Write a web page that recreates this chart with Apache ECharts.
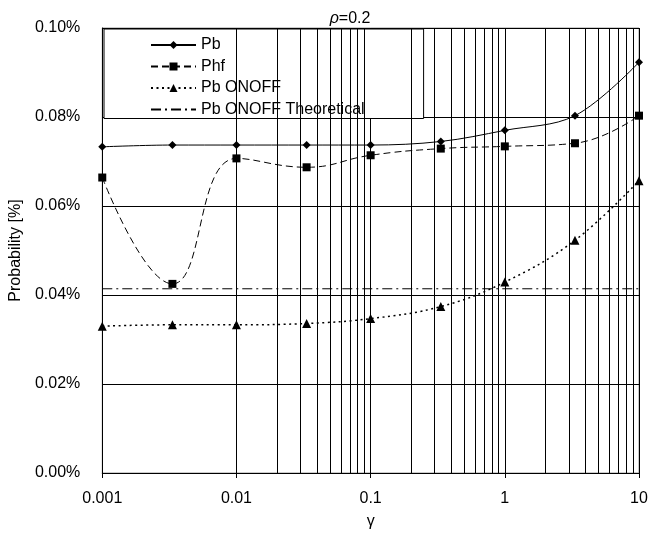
<!DOCTYPE html>
<html>
<head>
<meta charset="utf-8">
<script src="https://cdn.jsdelivr.net/npm/echarts@6/dist/echarts.min.js"></script>
<style>html,body{margin:0;padding:0;background:#fff}#c{width:666px;height:535px}</style>
</head>
<body>
<div id="c"></div>
<script>
var gammaValues = [0.001, 0.003333, 0.01, 0.03333, 0.1, 0.3333, 1, 3.333, 10];
var pbValues = [0.0733, 0.0737, 0.0737, 0.0737, 0.0737, 0.0745, 0.0770, 0.0803, 0.0923];
var phfValues = [0.0664, 0.0425, 0.0707, 0.0687, 0.0714, 0.0729, 0.0734, 0.0741, 0.0803];
var pbOnoffValues = [0.0330, 0.0333, 0.0333, 0.0336, 0.0347, 0.0374, 0.0429, 0.0523, 0.0657];
var theoreticalValue = 0.0414;
var theoreticalRange = [0.001, 10];
var xTickLabels = ['0.001', '0.01', '0.1', '1', '10'];
var minorGridX = [];
[0.001, 0.01, 0.1, 1].forEach(function (d) {
  for (var k = 2; k <= 9; k++) minorGridX.push(+(d * k).toPrecision(3));
});

function pairs(xs, ys) { return xs.map(function (x, i) { return [x, ys[i]]; }); }

var font = 'Liberation Sans, Arial, sans-serif';
var fs = 16;
var chart = echarts.init(document.getElementById('c'), null, {renderer: 'canvas'});
chart.setOption({
  animation: false,
  backgroundColor: '#fff',
  title: {
    text: '{i|ρ}=0.2', left: 345, top: 6, textAlign: 'center',
    textStyle: {fontFamily: font, fontSize: fs, fontWeight: 'normal', color: '#000',
      rich: {i: {fontFamily: font, fontSize: fs, fontStyle: 'italic', color: '#000'}}}
  },
  grid: {left: 102, right: 27, top: 28, bottom: 59, show: true, borderColor: '#999', borderWidth: 1},
  legend: {
    orient: 'vertical', left: 104, top: 29,
    backgroundColor: '#fff', borderColor: '#000', borderWidth: 1,
    padding: [8, 59, 1, 46], itemGap: 5.5, itemWidth: 45, itemHeight: 10,
    textStyle: {fontFamily: font, fontSize: fs, color: '#000'},
    data: ['Pb', 'Phf', 'Pb ONOFF', {name: 'Pb ONOFF Theoretical', itemStyle: {opacity: 0}}]
  },
  xAxis: {
    type: 'log', logBase: 10, min: 0.001, max: 10,
    name: 'γ', nameLocation: 'middle', nameGap: 41,
    nameTextStyle: {fontFamily: font, fontSize: fs, color: '#000'},
    axisLine: {show: true, onZero: false, lineStyle: {color: '#000', width: 1}},
    axisTick: {show: true, inside: false, length: 5, lineStyle: {color: '#000'}},
    axisLabel: {fontFamily: font, fontSize: fs, color: '#000', margin: 18,
      formatter: function (v) { var i = Math.round(Math.log10(v)) + 3; return xTickLabels[i]; }},
    splitLine: {show: true, lineStyle: {color: '#000', width: 1}}
  },
  yAxis: {
    type: 'value', min: 0, max: 0.1, interval: 0.02,
    name: 'Probability [%]', nameLocation: 'middle', nameGap: 72,
    nameTextStyle: {fontFamily: font, fontSize: fs, color: '#000'},
    axisLine: {show: true, lineStyle: {color: '#000', width: 1}},
    axisTick: {show: false},
    axisLabel: {fontFamily: font, fontSize: fs, color: '#000', margin: 22,
      formatter: function (v) { return v.toFixed(2) + '%'; }},
    splitLine: {show: true, lineStyle: {color: '#000', width: 1}}
  },
  series: [
    {
      name: 'Pb', type: 'line', data: pairs(gammaValues, pbValues), smooth: 0.35,
      symbol: 'diamond', symbolSize: 8, z: 5,
      lineStyle: {color: '#000', width: 1, type: 'solid'},
      itemStyle: {color: '#000'}
    },
    {
      name: 'Phf', type: 'line', data: pairs(gammaValues, phfValues), smooth: 0.45,
      symbol: 'rect', symbolSize: 8, z: 5,
      lineStyle: {color: '#000', width: 1, type: [7, 4]},
      itemStyle: {color: '#000'}
    },
    {
      name: 'Pb ONOFF', type: 'line', data: pairs(gammaValues, pbOnoffValues), smooth: 0.4,
      symbol: 'triangle', symbolSize: 9, z: 5,
      lineStyle: {color: '#000', width: 1.5, type: [2, 3.5]},
      itemStyle: {color: '#000'}
    },
    {
      name: 'Pb ONOFF Theoretical', type: 'line',
      data: theoreticalRange.map(function (x) { return [x, theoreticalValue]; }),
      symbol: 'circle', showSymbol: false, z: 4,
      lineStyle: {color: '#000', width: 1, type: [10, 4, 2, 4]},
      itemStyle: {color: '#000'}
    },
    {
      name: 'minorGrid', type: 'line', data: [], silent: true, z: 1,
      markLine: {
        silent: true, symbol: 'none', label: {show: false},
        lineStyle: {color: '#000', width: 1, type: 'solid'},
        data: minorGridX.map(function (x) { return {xAxis: x}; })
      }
    }
  ]
});
</script>
</body>
</html>
